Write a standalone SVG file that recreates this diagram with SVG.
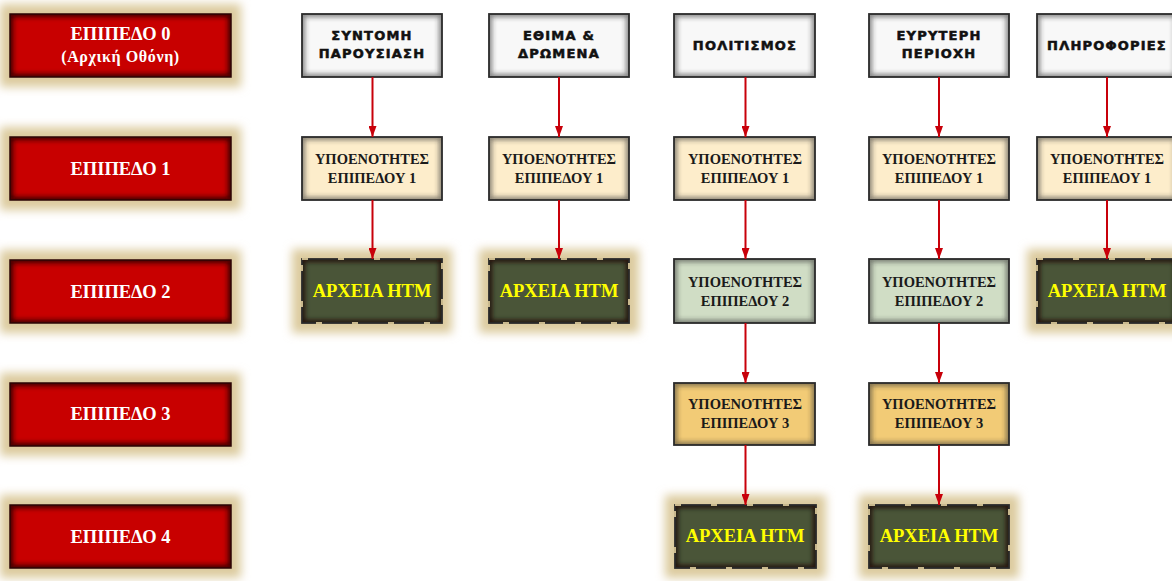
<svg xmlns="http://www.w3.org/2000/svg" width="1172" height="581" viewBox="0 0 1172 581">
<defs>
<style>
.lvl{font-family:"Liberation Serif","DejaVu Serif",serif;font-weight:bold;font-size:18.5px;fill:#fff;text-anchor:middle}
.lvls{font-family:"Liberation Serif","DejaVu Serif",serif;font-weight:bold;font-size:16px;fill:#fff;text-anchor:middle;letter-spacing:0.6px}
.top{font-family:"DejaVu Sans","Liberation Sans",sans-serif;font-weight:bold;font-size:13px;fill:#111;text-anchor:middle;letter-spacing:1.2px;stroke:#111;stroke-width:0.55}
.sub{font-family:"Liberation Serif","DejaVu Serif",serif;font-weight:bold;font-size:14.5px;fill:#1a1a1a;text-anchor:middle}
.htm{font-family:"Liberation Serif","DejaVu Serif",serif;font-weight:bold;font-size:18.5px;fill:#ffff00;text-anchor:middle}
.glow{fill:#dccb9e;filter:url(#blur)}
.red{fill:#c80000}
.grey{fill:#f8f8f8}
.cream{fill:#fdedcb}
.sage{fill:#d0ddc5}
.gold{fill:#f2cb76}
.dark{fill:#4a5538}
.shd{fill:none;stroke:#1a0000;stroke-opacity:0.8;stroke-width:6;filter:url(#soft);clip-path:url(#self)}
.shg{fill:none;stroke:#333;stroke-opacity:0.6;stroke-width:6;filter:url(#soft);clip-path:url(#self)}
.bd{fill:none;stroke:#2a2a2a;stroke-width:1.8}
.bdr{fill:none;stroke:#2a0505;stroke-width:1.5}
.dash{fill:none;stroke:#c9b98e;stroke-width:2;stroke-dasharray:6 30}
.conn line{stroke:#c8000a;stroke-width:2;marker-end:url(#arr)}
</style>
<filter id="blur" x="-30%" y="-50%" width="160%" height="200%"><feGaussianBlur stdDeviation="5"/></filter>
<filter id="soft" x="-20%" y="-40%" width="140%" height="180%"><feGaussianBlur stdDeviation="2.5"/></filter>
<clipPath id="self" clipPathUnits="objectBoundingBox"><rect width="1" height="1"/></clipPath>
<marker id="arr" markerUnits="userSpaceOnUse" markerWidth="12" markerHeight="8" refX="11" refY="4" orient="auto"><path d="M0,0 L11,4 L0,8 Z" fill="#c8000a"/></marker>
</defs>
<rect width="1172" height="581" fill="#fff"/>

<g id="level0"><rect class="glow" x="0" y="4" width="241" height="83"/><rect class="red" x="10" y="14" width="221" height="63"/><rect class="shd" x="10" y="14" width="221" height="63"/><rect class="bdr" x="10" y="14" width="221" height="63"/><text class="lvl" x="120.5" y="40">ΕΠΙΠΕΔΟ 0</text><text class="lvls" x="120.5" y="62">(Αρχική Οθόνη)</text></g>
<g id="level1"><rect class="glow" x="0" y="127" width="241" height="83"/><rect class="red" x="10" y="137" width="221" height="63"/><rect class="shd" x="10" y="137" width="221" height="63"/><rect class="bdr" x="10" y="137" width="221" height="63"/><text class="lvl" x="120.5" y="175">ΕΠΙΠΕΔΟ 1</text></g>
<g id="level2"><rect class="glow" x="0" y="250" width="241" height="83"/><rect class="red" x="10" y="260" width="221" height="63"/><rect class="shd" x="10" y="260" width="221" height="63"/><rect class="bdr" x="10" y="260" width="221" height="63"/><text class="lvl" x="120.5" y="298">ΕΠΙΠΕΔΟ 2</text></g>
<g id="level3"><rect class="glow" x="0" y="373" width="241" height="83"/><rect class="red" x="10" y="383" width="221" height="63"/><rect class="shd" x="10" y="383" width="221" height="63"/><rect class="bdr" x="10" y="383" width="221" height="63"/><text class="lvl" x="120.5" y="420">ΕΠΙΠΕΔΟ 3</text></g>
<g id="level4"><rect class="glow" x="0" y="495" width="241" height="83"/><rect class="red" x="10" y="505" width="221" height="63"/><rect class="shd" x="10" y="505" width="221" height="63"/><rect class="bdr" x="10" y="505" width="221" height="63"/><text class="lvl" x="120.5" y="543">ΕΠΙΠΕΔΟ 4</text></g>

<g id="syntomi"><rect class="grey" x="302" y="14" width="140" height="63"/><rect class="shg" x="302" y="14" width="140" height="63"/><rect class="bd" x="302" y="14" width="140" height="63"/><text class="top" x="372" y="40">ΣΥΝΤΟΜΗ</text><text class="top" x="372" y="58">ΠΑΡΟΥΣΙΑΣΗ</text></g>
<g id="ethima"><rect class="grey" x="489" y="14" width="140" height="63"/><rect class="shg" x="489" y="14" width="140" height="63"/><rect class="bd" x="489" y="14" width="140" height="63"/><text class="top" x="559" y="40">ΕΘΙΜΑ &amp;</text><text class="top" x="559" y="58">ΔΡΩΜΕΝΑ</text></g>
<g id="politismos"><rect class="grey" x="674" y="14" width="141" height="63"/><rect class="shg" x="674" y="14" width="141" height="63"/><rect class="bd" x="674" y="14" width="141" height="63"/><text class="top" x="745" y="50">ΠΟΛΙΤΙΣΜΟΣ</text></g>
<g id="evryteri"><rect class="grey" x="869" y="14" width="140" height="63"/><rect class="shg" x="869" y="14" width="140" height="63"/><rect class="bd" x="869" y="14" width="140" height="63"/><text class="top" x="939" y="40">ΕΥΡΥΤΕΡΗ</text><text class="top" x="939" y="58">ΠΕΡΙΟΧΗ</text></g>
<g id="plirofories"><rect class="grey" x="1037" y="14" width="140" height="63"/><rect class="shg" x="1037" y="14" width="140" height="63"/><rect class="bd" x="1037" y="14" width="140" height="63"/><text class="top" x="1107" y="50">ΠΛΗΡΟΦΟΡΙΕΣ</text></g>

<g id="c1-l1"><rect class="cream" x="302" y="137" width="140" height="63"/><rect class="shg" x="302" y="137" width="140" height="63"/><rect class="bd" x="302" y="137" width="140" height="63"/><text class="sub" x="372" y="164">ΥΠΟΕΝΟΤΗΤΕΣ</text><text class="sub" x="372" y="183">ΕΠΙΠΕΔΟΥ 1</text></g>
<g id="c2-l1"><rect class="cream" x="489" y="137" width="140" height="63"/><rect class="shg" x="489" y="137" width="140" height="63"/><rect class="bd" x="489" y="137" width="140" height="63"/><text class="sub" x="559" y="164">ΥΠΟΕΝΟΤΗΤΕΣ</text><text class="sub" x="559" y="183">ΕΠΙΠΕΔΟΥ 1</text></g>
<g id="c3-l1"><rect class="cream" x="674" y="137" width="141" height="63"/><rect class="shg" x="674" y="137" width="141" height="63"/><rect class="bd" x="674" y="137" width="141" height="63"/><text class="sub" x="745" y="164">ΥΠΟΕΝΟΤΗΤΕΣ</text><text class="sub" x="745" y="183">ΕΠΙΠΕΔΟΥ 1</text></g>
<g id="c4-l1"><rect class="cream" x="869" y="137" width="140" height="63"/><rect class="shg" x="869" y="137" width="140" height="63"/><rect class="bd" x="869" y="137" width="140" height="63"/><text class="sub" x="939" y="164">ΥΠΟΕΝΟΤΗΤΕΣ</text><text class="sub" x="939" y="183">ΕΠΙΠΕΔΟΥ 1</text></g>
<g id="c5-l1"><rect class="cream" x="1037" y="137" width="140" height="63"/><rect class="shg" x="1037" y="137" width="140" height="63"/><rect class="bd" x="1037" y="137" width="140" height="63"/><text class="sub" x="1107" y="164">ΥΠΟΕΝΟΤΗΤΕΣ</text><text class="sub" x="1107" y="183">ΕΠΙΠΕΔΟΥ 1</text></g>

<g id="c1-htm"><rect class="glow" x="292" y="249" width="160" height="84"/><rect class="dark" x="302" y="259" width="140" height="64"/><rect class="shd" x="302" y="259" width="140" height="64"/><rect class="bd" x="302" y="259" width="140" height="64"/><rect class="dash" x="302" y="259" width="140" height="64"/><text class="htm" x="372" y="297">ΑΡΧΕΙΑ HTM</text></g>
<g id="c2-htm"><rect class="glow" x="479" y="249" width="160" height="84"/><rect class="dark" x="489" y="259" width="140" height="64"/><rect class="shd" x="489" y="259" width="140" height="64"/><rect class="bd" x="489" y="259" width="140" height="64"/><rect class="dash" x="489" y="259" width="140" height="64"/><text class="htm" x="559" y="297">ΑΡΧΕΙΑ HTM</text></g>
<g id="c3-l2"><rect class="sage" x="674" y="259" width="141" height="64"/><rect class="shg" x="674" y="259" width="141" height="64"/><rect class="bd" x="674" y="259" width="141" height="64"/><text class="sub" x="745" y="287">ΥΠΟΕΝΟΤΗΤΕΣ</text><text class="sub" x="745" y="306">ΕΠΙΠΕΔΟΥ 2</text></g>
<g id="c4-l2"><rect class="sage" x="869" y="259" width="140" height="64"/><rect class="shg" x="869" y="259" width="140" height="64"/><rect class="bd" x="869" y="259" width="140" height="64"/><text class="sub" x="939" y="287">ΥΠΟΕΝΟΤΗΤΕΣ</text><text class="sub" x="939" y="306">ΕΠΙΠΕΔΟΥ 2</text></g>
<g id="c5-htm"><rect class="glow" x="1027" y="249" width="160" height="84"/><rect class="dark" x="1037" y="259" width="140" height="64"/><rect class="shd" x="1037" y="259" width="140" height="64"/><rect class="bd" x="1037" y="259" width="140" height="64"/><rect class="dash" x="1037" y="259" width="140" height="64"/><text class="htm" x="1107" y="297">ΑΡΧΕΙΑ HTM</text></g>

<g id="c3-l3"><rect class="gold" x="674" y="383" width="141" height="62"/><rect class="shg" x="674" y="383" width="141" height="62"/><rect class="bd" x="674" y="383" width="141" height="62"/><text class="sub" x="745" y="409">ΥΠΟΕΝΟΤΗΤΕΣ</text><text class="sub" x="745" y="428">ΕΠΙΠΕΔΟΥ 3</text></g>
<g id="c4-l3"><rect class="gold" x="869" y="383" width="140" height="62"/><rect class="shg" x="869" y="383" width="140" height="62"/><rect class="bd" x="869" y="383" width="140" height="62"/><text class="sub" x="939" y="409">ΥΠΟΕΝΟΤΗΤΕΣ</text><text class="sub" x="939" y="428">ΕΠΙΠΕΔΟΥ 3</text></g>

<g id="c3-htm"><rect class="glow" x="665" y="495" width="161" height="83"/><rect class="dark" x="675" y="505" width="141" height="63"/><rect class="shd" x="675" y="505" width="141" height="63"/><rect class="bd" x="675" y="505" width="141" height="63"/><rect class="dash" x="675" y="505" width="141" height="63"/><text class="htm" x="745" y="542">ΑΡΧΕΙΑ HTM</text></g>
<g id="c4-htm"><rect class="glow" x="859" y="495" width="160" height="83"/><rect class="dark" x="869" y="505" width="140" height="63"/><rect class="shd" x="869" y="505" width="140" height="63"/><rect class="bd" x="869" y="505" width="140" height="63"/><rect class="dash" x="869" y="505" width="140" height="63"/><text class="htm" x="939" y="542">ΑΡΧΕΙΑ HTM</text></g>

<g id="connectors" class="conn">
<line x1="372.5" y1="77" x2="372.5" y2="137"/>
<line x1="559" y1="77" x2="559" y2="137"/>
<line x1="745.5" y1="77" x2="745.5" y2="137"/>
<line x1="939" y1="77" x2="939" y2="137"/>
<line x1="1107" y1="77" x2="1107" y2="137"/>
<line x1="372.5" y1="200" x2="372.5" y2="259"/>
<line x1="559" y1="200" x2="559" y2="259"/>
<line x1="745.5" y1="200" x2="745.5" y2="259"/>
<line x1="939" y1="200" x2="939" y2="259"/>
<line x1="1107" y1="200" x2="1107" y2="259"/>
<line x1="745.5" y1="323" x2="745.5" y2="383"/>
<line x1="939" y1="323" x2="939" y2="383"/>
<line x1="745.5" y1="445" x2="745.5" y2="505"/>
<line x1="939" y1="445" x2="939" y2="505"/>
</g>
</svg>
